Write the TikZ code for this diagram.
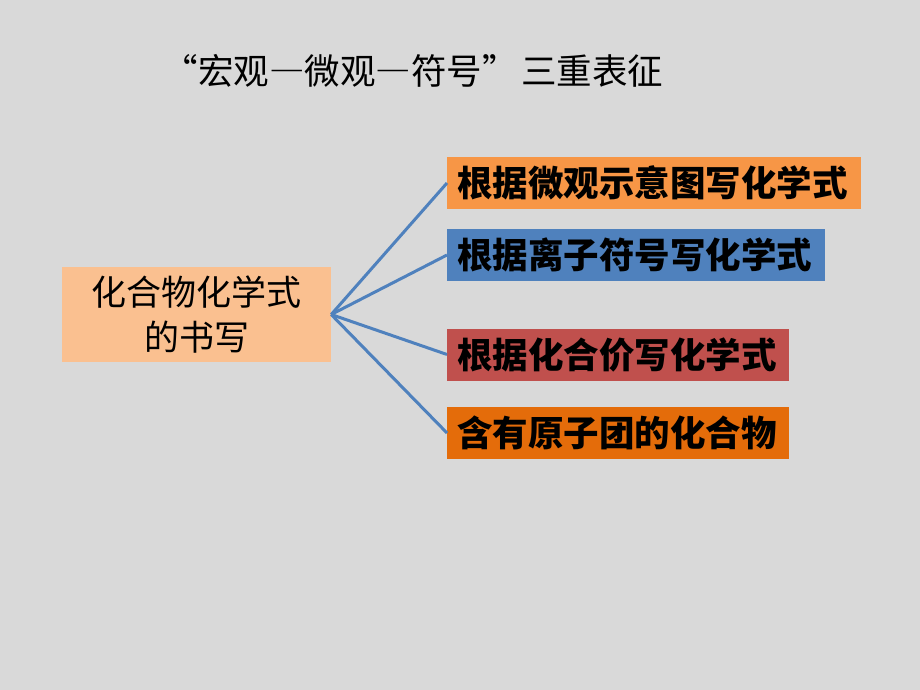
\documentclass[tikz,border=0pt]{standalone}
\usepackage{fontspec}
\setmainfont{Noto Sans CJK SC}
\newfontfamily\fwfont[RawFeature=+fwid]{Noto Sans CJK SC}
\definecolor{bg}{HTML}{D9D9D9}
\definecolor{cleft}{HTML}{FAC090}
\definecolor{cone}{HTML}{F79646}
\definecolor{ctwo}{HTML}{4F81BD}
\definecolor{cthree}{HTML}{C0504D}
\definecolor{cfour}{HTML}{E46C0A}
\definecolor{cline}{HTML}{4F81BD}
\tikzset{
  rbox/.style={anchor=west, minimum height=52pt, inner xsep=10pt, inner ysep=0pt,
    align=left, font=\fontsize{35.5}{40}\selectfont\bfseries},
  link/.style={draw=cline, line width=3pt}
}
\begin{document}
\begin{tikzpicture}[x=1pt,y=-1pt]
\useasboundingbox (0,0) rectangle (920,690);
\fill[bg] (0,0) rectangle (920,690);
\node (title) at (413,71) {\fwfont\fontsize{35.5}{40}\selectfont “宏观—微观—符号”\hspace{4pt}三重表征};
\node (left) [fill=cleft, minimum width=269pt, minimum height=95pt, inner sep=0pt, align=center,
  font=\fontsize{35}{45}\selectfont] at (196.5,314.5) {化合物化学式\\的书写};
\node (b1) [rbox, fill=cone, text width=394pt] at (447,183) {根据微观示意图写化学式};
\node (b2) [rbox, fill=ctwo, text width=358pt] at (447,255) {根据离子符号写化学式};
\node (b3) [rbox, fill=cthree, text width=322pt] at (447,354.5) {根据化合价写化学式};
\node (b4) [rbox, fill=cfour, text width=322pt] at (447,433) {含有原子团的化合物};
\draw[link] (left.east) -- (b1.west);
\draw[link] (left.east) -- (b2.west);
\draw[link] (left.east) -- (b3.west);
\draw[link] (left.east) -- (b4.west);
\end{tikzpicture}
\end{document}
